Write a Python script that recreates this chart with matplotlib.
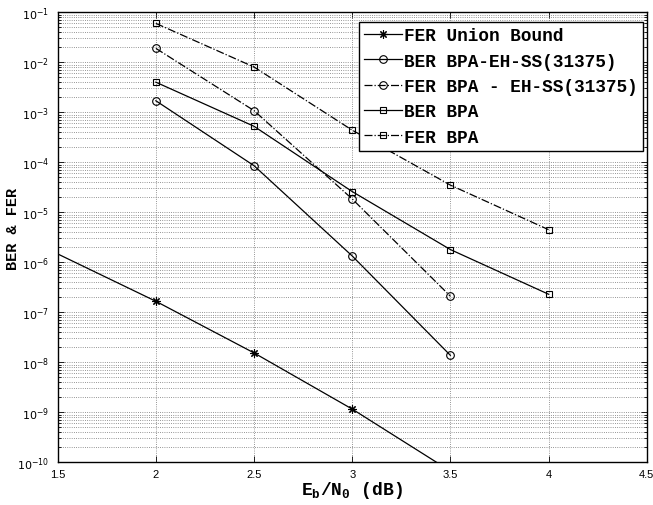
import matplotlib
matplotlib.use("Agg")
import matplotlib.pyplot as plt
from matplotlib.ticker import LogLocator, FixedLocator, NullFormatter

plt.rcParams['mathtext.fontset'] = 'dejavusans'
plt.rcParams['mathtext.rm'] = 'Liberation Mono:bold'
plt.rcParams['mathtext.it'] = 'Liberation Mono:bold'
plt.rcParams['mathtext.bf'] = 'Liberation Mono:bold'

# Eb/N0 points (dB)
snr_union = [1.0, 2.0, 2.5, 3.0, 3.5]
snr_bpa = [2.0, 2.5, 3.0, 3.5, 4.0]
snr_ehss = [2.0, 2.5, 3.0, 3.5]

# error rates
fer_union = [1.3e-5, 1.66e-7, 1.54e-8, 1.16e-9, 6.7e-11]
ber_ehss = [1.7e-3, 8.55e-5, 1.34e-6, 1.38e-8]
fer_ehss = [1.9e-2, 1.08e-3, 1.85e-5, 2.1e-7]
ber_bpa = [4.0e-3, 5.25e-4, 2.6e-5, 1.8e-6, 2.3e-7]
fer_bpa = [6.0e-2, 8.05e-3, 4.4e-4, 3.5e-5, 4.5e-6]

labels = ['FER Union Bound', 'BER BPA-EH-SS(31375)', 'FER BPA - EH-SS(31375)',
          'BER BPA', 'FER BPA']

xticks = [1.5, 2, 2.5, 3, 3.5, 4, 4.5]
xticklabels = ['1.5', '2', '2.5', '3', '3.5', '4', '4.5']
ydecades = list(range(-10, 0))

fig = plt.figure(figsize=(6.53, 5.06), dpi=100)
ax = fig.add_axes([0.0884, 0.0844, 0.9019, 0.8893])

lw = 0.9
star = (8, 2, 0)  # asterisk marker
ax.semilogy(snr_union, fer_union, 'k-', marker=star, lw=lw, ms=6, mew=0.8, label=labels[0])
ax.semilogy(snr_ehss, ber_ehss, 'k-o', lw=lw, ms=5.5, mfc='none', mew=0.8, label=labels[1])
ax.semilogy(snr_ehss, fer_ehss, 'k-.o', lw=lw, ms=5.5, mfc='none', mew=0.8, label=labels[2])
ax.semilogy(snr_bpa, ber_bpa, 'k-s', lw=lw, ms=4.5, mfc='none', mew=0.8, label=labels[3])
ax.semilogy(snr_bpa, fer_bpa, 'k-.s', lw=lw, ms=4.5, mfc='none', mew=0.8, label=labels[4])

ax.set_xlim(1.5, 4.5)
ax.set_ylim(1e-10, 1e-1)

ax.xaxis.set_major_locator(FixedLocator(xticks))
ax.set_xticklabels(xticklabels, fontfamily='Liberation Sans', fontsize=8)
ax.yaxis.set_major_locator(FixedLocator([10.0 ** d for d in ydecades]))
ax.set_yticklabels([r'$10^{%d}$' % d for d in ydecades], fontsize=8)
ax.yaxis.set_minor_locator(LogLocator(base=10, subs=range(2, 10), numticks=20))
ax.yaxis.set_minor_formatter(NullFormatter())

ax.tick_params(which='both', direction='in', top=True, right=True, width=0.6)
ax.tick_params(which='major', length=4.5)
ax.tick_params(which='minor', length=2.5)
ax.tick_params(axis='x', pad=5)
ax.tick_params(axis='y', pad=6)

ax.grid(True, which='major', linestyle=':', color='0.45', lw=0.6)
ax.grid(True, which='minor', axis='y', linestyle=':', color='0.45', lw=0.6)

for sp in ax.spines.values():
    sp.set_linewidth(1.0)

ax.set_ylabel('BER & FER', fontfamily='Liberation Mono', fontweight='bold', fontsize=11)
ax.yaxis.set_label_coords(-0.064, 0.52)
ax.set_xlabel(r'E$_{\rm b}$/N$_{\rm 0}$ (dB)', fontfamily='Liberation Mono',
              fontweight='bold', fontsize=13, math_fontfamily='custom')
ax.xaxis.set_label_coords(0.5, -0.038)

leg = ax.legend(loc='upper right', bbox_to_anchor=(0.9937, 0.978), borderaxespad=0,
                prop={'family': 'Liberation Mono', 'weight': 'bold', 'size': 12.8},
                frameon=True, fancybox=False, edgecolor='black',
                handlelength=2.1, handletextpad=0.15, labelspacing=0.47,
                borderpad=0.28)
leg.get_frame().set_linewidth(1.0)
leg.get_frame().set_alpha(1)

fig.savefig('out.png', dpi=100)
